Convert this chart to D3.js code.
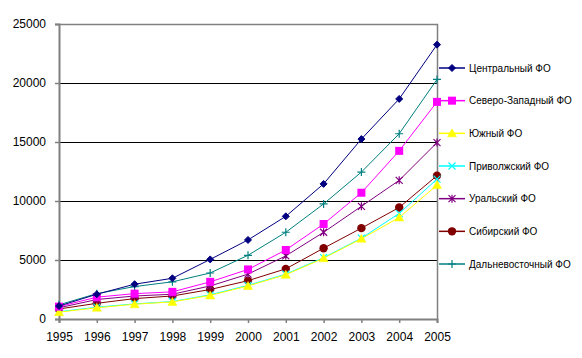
<!DOCTYPE html>
<html><head><meta charset="utf-8">
<script src="https://cdn.jsdelivr.net/npm/d3@7"></script>
<style>body{margin:0;background:#fff}svg{display:block}text{font-family:"Liberation Sans",Arial,sans-serif;fill:#000}</style>
</head><body><svg id="c" width="582" height="358"></svg>
<script>
const years = ["1995","1996","1997","1998","1999","2000","2001","2002","2003","2004","2005"];
const yTicks = [0,5000,10000,15000,20000,25000];
const seriesNames = ["Центральный ФО","Северо-Западный ФО","Южный ФО","Приволжский ФО","Уральский ФО","Сибирский ФО","Дальневосточный ФО"];
const central   = [1100,2100,2950,3450,5050,6700,8700,11450,15250,18650,23250];
const northwest = [1050,1850,2150,2300,3150,4200,5850,8050,10700,14250,18400];
const south     = [580,950,1250,1450,2000,2800,3750,5150,6800,8600,11350];
const volga     = [620,1000,1280,1480,2050,2850,3800,5200,6850,8950,11850];
const ural      = [950,1650,1950,2100,2800,3800,5350,7350,9550,11750,14950];
const siberia   = [850,1330,1730,1950,2500,3250,4250,6000,7700,9450,12150];
const fareast   = [1200,2150,2750,3150,3900,5400,7350,9750,12450,15700,20300];
const seriesData = [central,northwest,south,volga,ural,siberia,fareast];
const colors = ["#000080","#FF00FF","#FFFF00","#00FFFF","#800080","#800000","#008080"];
const markers = ["diamond","square","triangle","x","star","circle","plus"];

const svg = d3.select("#c");
const L=59,R=437,T=24,B=319;
const x = d3.scalePoint().domain(years).range([L,R]);
const y = d3.scaleLinear().domain([0,25000]).range([B,T]);

// gridlines
svg.append("g").selectAll("line").data(yTicks.filter(d=>d>0&&d<25000)).join("line")
  .attr("x1",L).attr("x2",R).attr("y1",d=>y(d)+0.5).attr("y2",d=>y(d)+0.5)
  .attr("stroke","#000").attr("stroke-width",1);
// plot border top/right
svg.append("path").attr("d",`M${L},${T+0.5}H${R+0.5}V${B}`).attr("fill","none").attr("stroke","#808080").attr("stroke-width",1.5);

// axes
const ya = svg.append("g").attr("transform",`translate(${L},0)`)
  .call(d3.axisLeft(y).tickValues(yTicks).tickSize(4).tickPadding(9).tickFormat(d=>String(d)));
const xa = svg.append("g").attr("transform",`translate(0,${B})`)
  .call(d3.axisBottom(x).tickSize(4).tickPadding(9));
[ya,xa].forEach(a=>{
  a.select(".domain").attr("stroke","#808080").attr("stroke-width",2);
  a.selectAll(".tick line").attr("stroke","#808080").attr("stroke-width",1.5);
  a.selectAll("text").attr("font-size",12).attr("font-family","Liberation Sans, Arial, sans-serif").attr("fill","#000");
});

function marker(g, type, color, cx, cy){
  const s=3.5;
  if(type==="diamond") g.append("path").attr("d",`M${cx},${cy-3.5}L${cx+3.5},${cy}L${cx},${cy+3.5}L${cx-3.5},${cy}Z`).attr("fill",color).attr("stroke",color);
  else if(type==="square") g.append("rect").attr("x",cx-4).attr("y",cy-4).attr("width",8).attr("height",8).attr("fill",color);
  else if(type==="triangle") g.append("path").attr("d",`M${cx},${cy-4.5}L${cx+4.5},${cy+3.5}L${cx-4.5},${cy+3.5}Z`).attr("fill",color).attr("stroke",color).attr("stroke-width",0.5);
  else if(type==="circle") g.append("circle").attr("cx",cx).attr("cy",cy).attr("r",4.2).attr("fill",color);
  else if(type==="x") g.append("path").attr("d",`M${cx-s},${cy-s}L${cx+s},${cy+s}M${cx-s},${cy+s}L${cx+s},${cy-s}`).attr("stroke",color).attr("stroke-width",1.2);
  else if(type==="star") g.append("path").attr("d",`M${cx-s},${cy-s}L${cx+s},${cy+s}M${cx-s},${cy+s}L${cx+s},${cy-s}M${cx},${cy-s-0.5}V${cy+s+0.5}`).attr("stroke",color).attr("stroke-width",1.2);
  else if(type==="plus") g.append("path").attr("d",`M${cx-s-0.5},${cy}H${cx+s+0.5}M${cx},${cy-s-0.5}V${cy+s+0.5}`).attr("stroke",color).attr("stroke-width",1.2);
}

const line = d3.line().x((d,i)=>x(years[i])).y(d=>y(d));
const order = [6,5,4,3,2,1,0];
order.forEach(k=>{
  const g = svg.append("g");
  g.append("path").datum(seriesData[k]).attr("d",line).attr("fill","none").attr("stroke",colors[k]).attr("stroke-width",1);
  seriesData[k].forEach((v,i)=>marker(g,markers[k],colors[k],x(years[i]),y(v)));
});

// legend
const legY = d3.scalePoint().domain(seriesNames).range([68,264]);
seriesNames.forEach((n,k)=>{
  const g = svg.append("g");
  const yy = legY(n);
  g.append("line").attr("x1",439).attr("x2",465).attr("y1",yy).attr("y2",yy).attr("stroke",colors[k]).attr("stroke-width",1.5);
  marker(g,markers[k],colors[k],452,yy);
  g.append("text").attr("x",469).attr("y",yy).attr("dy","0.35em").attr("font-size",10).text(n);
});
</script></body></html>
